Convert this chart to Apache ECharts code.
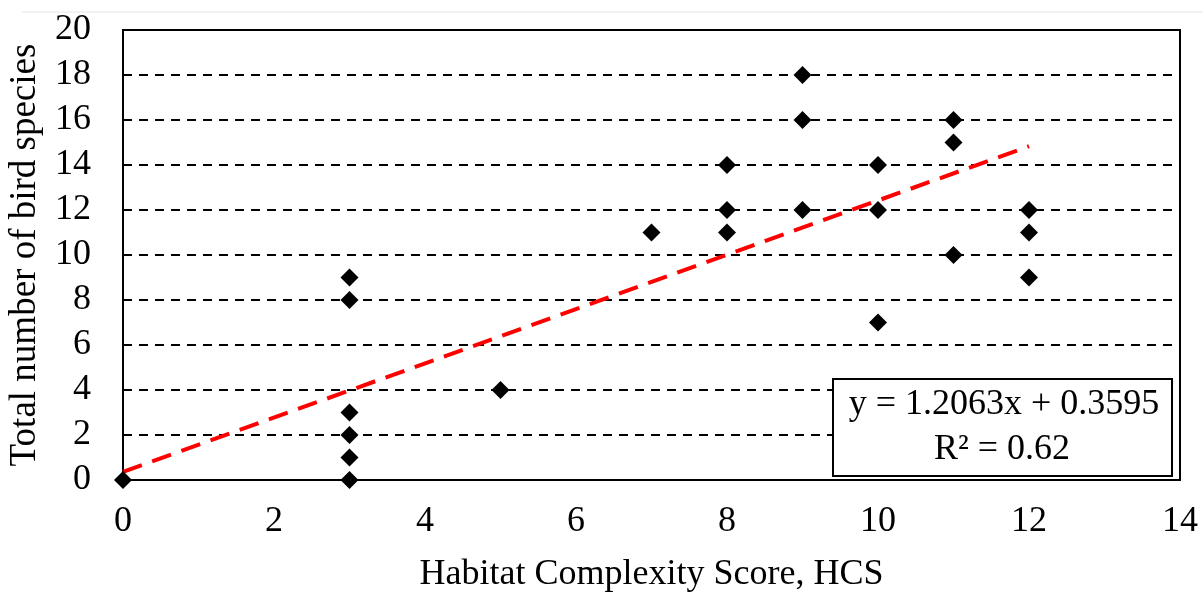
<!DOCTYPE html>
<html>
<head>
<meta charset="utf-8">
<script src="https://cdn.jsdelivr.net/npm/echarts@6/dist/echarts.min.js"></script>
<style>
html,body{margin:0;padding:0;background:#fff;}
#chart{width:1203px;height:595px;}
</style>
</head>
<body>
<div id="chart"></div>
<script>
// Data
var hcsValues = [0, 3, 3, 3, 3, 3, 3, 5, 7, 8, 8, 8, 9, 9, 9, 10, 10, 10, 11, 11, 11, 12, 12, 12];
var speciesValues = [0, 9, 8, 3, 2, 1, 0, 4, 11, 14, 12, 11, 18, 16, 12, 14, 12, 7, 16, 15, 10, 12, 11, 9];
var trendCoef = [1.2063, 0.3595]; // slope, intercept
var trendRange = [0, 12];
var equationLines = ['y = 1.2063x + 0.3595', 'R² = 0.62'];
var xAxisName = 'Habitat Complexity Score, HCS';
var yAxisName = 'Total number of bird species';

var points = hcsValues.map(function (x, i) { return [x, speciesValues[i]]; });
var trendPoints = trendRange.map(function (x) { return [x, trendCoef[0] * x + trendCoef[1]]; });

var font = 'Liberation Serif, Times New Roman, serif';
var chart = echarts.init(document.getElementById('chart'));
chart.setOption({
  backgroundColor: '#fff',
  animation: false,
  grid: { left: 123, right: 23, top: 30, bottom: 115, containLabel: false, outerBoundsMode: 'none',
          show: true, borderColor: '#000', borderWidth: 2, backgroundColor: 'transparent' },
  xAxis: {
    type: 'value', min: 0, max: 14, interval: 2,
    name: xAxisName, nameLocation: 'middle', nameGap: 77,
    nameTextStyle: { fontFamily: font, fontSize: 36, color: '#000' },
    axisLine: { show: true, lineStyle: { color: '#000', width: 2 } },
    axisTick: { show: false },
    axisLabel: { fontFamily: font, fontSize: 36, color: '#000', margin: 24 },
    splitLine: { show: false }
  },
  yAxis: {
    type: 'value', min: 0, max: 20, interval: 2,
    name: yAxisName, nameLocation: 'middle', nameGap: 76,
    nameTextStyle: { fontFamily: font, fontSize: 37, color: '#000' },
    axisLine: { show: true, lineStyle: { color: '#000', width: 2 } },
    axisTick: { show: false },
    axisLabel: { fontFamily: font, fontSize: 36, color: '#000', margin: 32 },
    splitLine: { show: true, lineStyle: { color: '#000', width: 2, type: [9, 7] } }
  },
  series: [
    {
      type: 'line', data: trendPoints, symbol: 'none', z: 3,
      lineStyle: { color: '#ff0000', width: 4, type: [20, 11] }
    },
    {
      type: 'scatter', data: points, symbol: 'diamond', symbolSize: 18, z: 4,
      itemStyle: { color: '#000', opacity: 1 }
    }
  ],
  graphic: [
    { type: 'line', shape: { x1: 22, y1: 12, x2: 1203, y2: 12 }, style: { stroke: '#e6e6e6', lineWidth: 1 } },
    {
      type: 'rect', z: 10,
      shape: { x: 833, y: 379, width: 339, height: 97 },
      style: { fill: '#fff', stroke: '#000', lineWidth: 2 }
    },
    {
      type: 'text', z: 11,
      style: { text: equationLines[0], x: 1004, y: 405, font: '36px ' + font, fill: '#000', align: 'center', verticalAlign: 'middle' }
    },
    {
      type: 'text', z: 11,
      style: { text: equationLines[1], x: 1002, y: 450, font: '36px ' + font, fill: '#000', align: 'center', verticalAlign: 'middle' }
    }
  ]
});
</script>
</body>
</html>
